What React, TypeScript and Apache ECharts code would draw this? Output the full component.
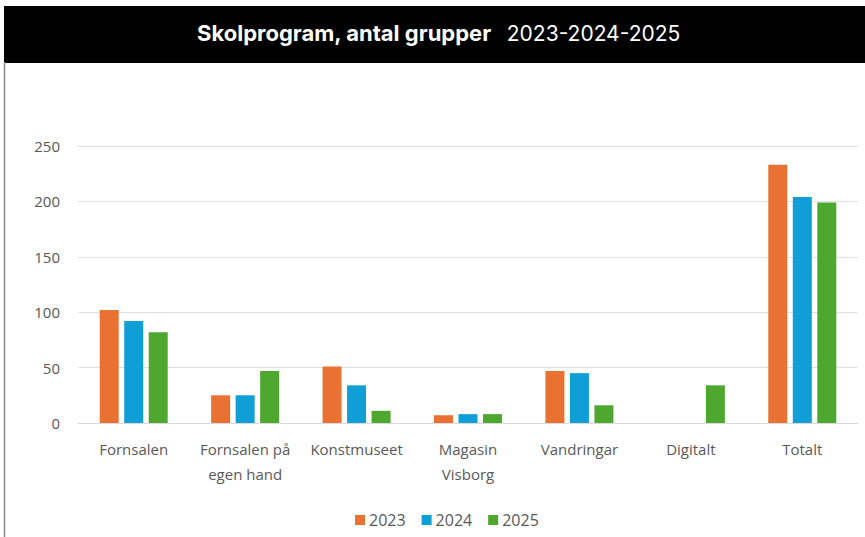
import React, { useEffect, useRef } from "react";
import * as echarts from "echarts";

const categories = [
  "Fornsalen",
  "Fornsalen på egen hand",
  "Konstmuseet",
  "Magasin Visborg",
  "Vandringar",
  "Digitalt",
  "Totalt",
];
const labelLines: Record<string, string> = {
  "Fornsalen på egen hand": "Fornsalen på\negen hand",
  "Magasin Visborg": "Magasin\nVisborg",
};
const years = ["2023", "2024", "2025"];
const values2023 = [102, 25, 51, 7, 47, null, 233];
const values2024 = [92, 25, 34, 8, 45, null, 204];
const values2025 = [82, 47, 11, 8, 16, 34, 199];
const yTicks = [0, 50, 100, 150, 200, 250];
const colors = ["#E97132", "#0F9ED5", "#4EA72E"];

const FONT = "'Open Sans', 'Noto Sans', sans-serif";

export default function App() {
  const ref = useRef<HTMLDivElement>(null);
  useEffect(() => {
    if (!ref.current) return;
    const chart = echarts.init(ref.current, undefined, { renderer: "svg" });
    const seriesData = [values2023, values2024, values2025];
    chart.setOption({
      animation: false,
      backgroundColor: "#ffffff",
      title: {
        text: "{b|Skolprogram, antal grupper}   {r|2023-2024-2025}",
        left: 192,
        top: 17,
        textStyle: {
          rich: {
            b: { fontFamily: "Inter, 'Open Sans', sans-serif", fontWeight: "bold", fontSize: 22, color: "#ffffff" },
            r: { fontFamily: "Inter, 'Open Sans', sans-serif", fontWeight: "normal", fontSize: 21, color: "#ffffff" },
          },
        },
      },
      graphic: [
        {
          type: "rect",
          z: -1,
          shape: { x: 4, y: 6, width: 861, height: 57 },
          style: { fill: "#000000" },
        },
        {
          type: "line",
          shape: { x1: 4.5, y1: 62, x2: 4.5, y2: 537 },
          style: { stroke: "#8a8a8a", lineWidth: 1.5 },
        },
      ],
      legend: {
        data: years,
        left: 350,
        top: 507,
        itemWidth: 10,
        itemHeight: 10,
        itemGap: 16,
        icon: "rect",
        textStyle: { color: "#595959", fontSize: 16, fontFamily: FONT, padding: [0, 0, 0, -1] },
      },
      grid: { left: 78, right: 7, top: 146, bottom: 114, containLabel: false },
      xAxis: {
        type: "category",
        data: categories,
        axisTick: { show: false },
        axisLine: { lineStyle: { color: "#d9d9d9", width: 1 } },
        axisLabel: {
          color: "#595959",
          fontSize: 15,
          fontFamily: FONT,
          margin: 13,
          lineHeight: 25,
          interval: 0,
          formatter: (v: string) => labelLines[v] ?? v,
        },
      },
      yAxis: {
        type: "value",
        min: yTicks[0],
        max: yTicks[yTicks.length - 1],
        interval: 50,
        axisLine: { show: false },
        axisTick: { show: false },
        splitLine: { lineStyle: { color: "#e0e0e0", width: 1 } },
        axisLabel: { color: "#595959", fontSize: 15, fontFamily: FONT, margin: 18 },
      },
      series: years.map((y, i) => ({
        name: y,
        type: "bar",
        data: seriesData[i],
        barWidth: 19,
        barGap: "29%",
        itemStyle: { color: colors[i] },
      })),
    });
    return () => chart.dispose();
  }, []);
  return (
    <div
      ref={ref}
      style={{ position: "fixed", left: 0, top: 0, width: 865, height: 537 }}
    />
  );
}
